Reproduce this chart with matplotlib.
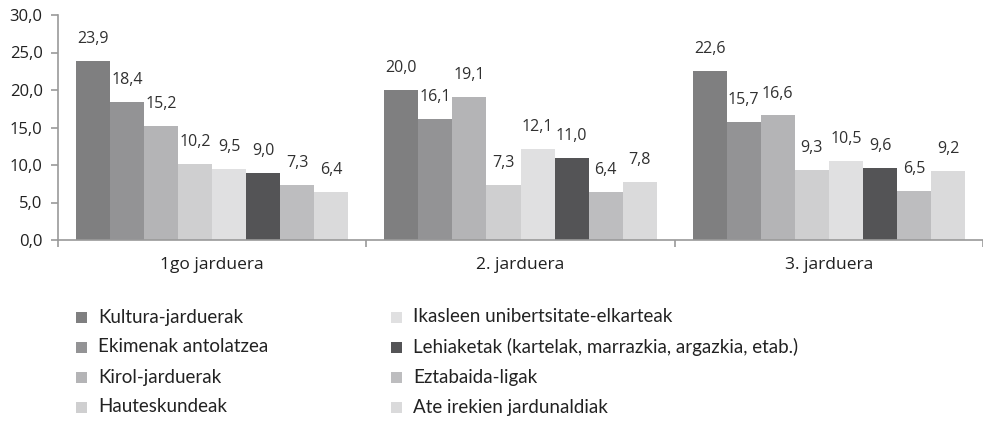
import numpy as np
import matplotlib.pyplot as plt
from matplotlib.patches import Rectangle
from matplotlib.ticker import FuncFormatter

#%% datos
grupos = ['1go jarduera', '2. jarduera', '3. jarduera']
series = ['Kultura-jarduerak', 'Ekimenak antolatzea', 'Kirol-jarduerak', 'Hauteskundeak',
          'Ikasleen unibertsitate-elkarteak', 'Lehiaketak (kartelak, marrazkia, argazkia, etab.)',
          'Eztabaida-ligak', 'Ate irekien jardunaldiak']
valores = [[23.9, 20.0, 22.6],
           [18.4, 16.1, 15.7],
           [15.2, 19.1, 16.6],
           [10.2, 7.3, 9.3],
           [9.5, 12.1, 10.5],
           [9.0, 11.0, 9.6],
           [7.3, 6.4, 6.5],
           [6.4, 7.8, 9.2]]
colores = ['#7f7f80', '#939395', '#b4b4b6', '#cfcfd0', '#e0e0e1', '#545456', '#bdbdbf', '#dadadb']

#%% grafico
plt.rcParams['font.family'] = ['Open Sans', 'DejaVu Sans']
W, H = 983, 422
fig = plt.figure(figsize=(W/100, H/100), dpi=100)
ax = fig.add_axes([58/W, 182/H, 925/W, 225/H])

x = np.arange(len(grupos))
ancho = 0.1105
for i, v in enumerate(valores):
    pos = x - 4*ancho + ancho/2 + i*ancho
    ax.bar(pos, v, width=ancho, color=colores[i], linewidth=0)
    for xi, yi in zip(pos, v):
        ax.annotate(('%.1f' % yi).replace('.', ','), (xi, yi), xytext=(0, 10),
                    textcoords='offset points', ha='center', va='bottom',
                    fontsize=11.5, color='#303030')

ax.set_xlim(-0.5, 2.5)
ax.set_ylim(0, 30)
ax.set_yticks(np.arange(0, 31, 5))
ax.yaxis.set_major_formatter(FuncFormatter(lambda v, p: ('%.1f' % v).replace('.', ',')))
ax.set_xticks([-0.5, 0.5, 1.5, 2.5])
ax.set_xticklabels([])
ax.set_xticks(x, minor=True)
ax.set_xticklabels(grupos, minor=True)
ax.tick_params(axis='x', which='minor', length=0, pad=12, labelsize=12.5, labelcolor='#202020')
ax.tick_params(axis='x', which='major', length=5, color='#9a9a9a', width=1.2)
ax.tick_params(axis='y', length=5, color='#9a9a9a', width=1.2, labelsize=12, labelcolor='#202020', pad=6)
for s in ['top', 'right']:
    ax.spines[s].set_visible(False)
for s in ['left', 'bottom']:
    ax.spines[s].set_color('#9a9a9a')
    ax.spines[s].set_linewidth(1.2)

#%% leyenda a mano (2 columnas x 4 filas)
for i, nombre in enumerate(series):
    col, fila = i // 4, i % 4
    xm = 76 + col*315
    yc = 317 + fila*30
    fig.patches.append(Rectangle((xm/W, 1 - (yc + 5.5)/H), 11/W, 11/H,
                                 transform=fig.transFigure, color=colores[i], linewidth=0))
    fig.text((xm + 22)/W, 1 - yc/H, nombre, va='center', ha='left', fontsize=13.5,
             family=['Lato', 'DejaVu Sans'], color='#222222')

plt.savefig('out.png', dpi=100)
